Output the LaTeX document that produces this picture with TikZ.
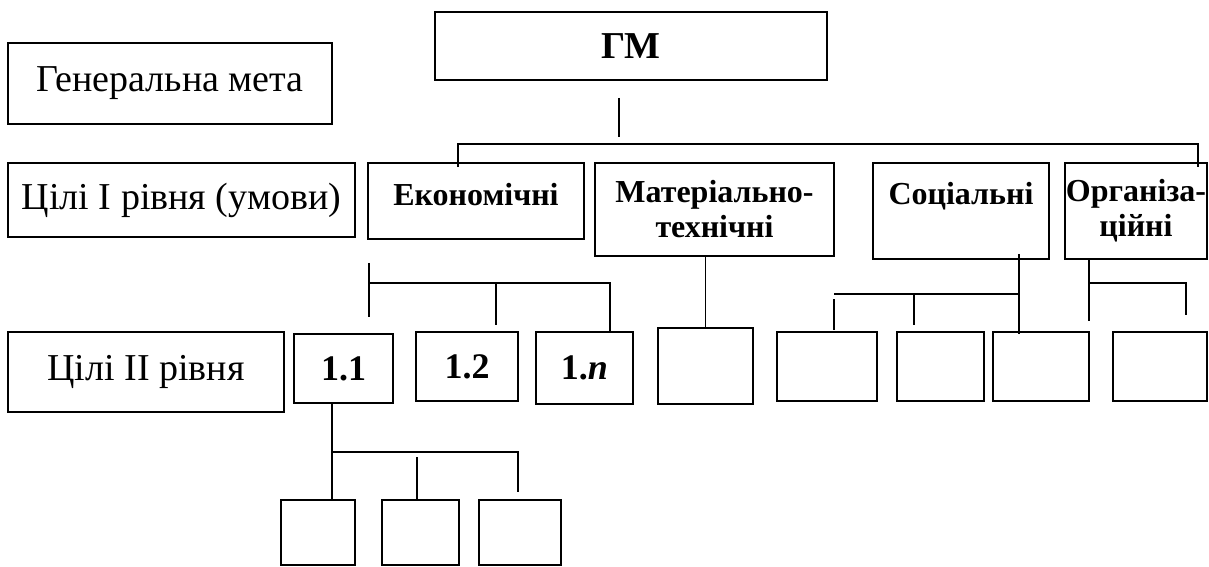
\documentclass[tikz,border=0pt]{standalone}
\usepackage{fontspec}
\setmainfont{Liberation Serif}
\tikzset{
  goal/.style={draw, line width=1.6pt, inner sep=0pt, align=center},
  wh/.style 2 args={minimum width=#1pt, minimum height=#2pt},
  plain/.style={goal, font=\fontsize{38}{42}\selectfont},
  head/.style={goal, font=\bfseries\fontsize{32}{35}\selectfont},
  num/.style={goal, font=\bfseries\fontsize{36}{40}\selectfont},
  link/.style={line width=1.4pt},
}

\begin{document}
\begin{tikzpicture}[x=1pt, y=-1pt]
  \useasboundingbox (0,0) rectangle (1209,567);
  % row captions
  \node[plain, wh={324}{81}] (gen) at (170,83.5) {Генеральна мета};
  \node[plain, wh={347}{74}] (lvl1) at (181.5,200) {Цілі І рівня (умови)};
  \node[plain, wh={276}{80}] (lvl2) at (146,372) {Цілі ІІ рівня};
  % general goal and first level
  \node[num, wh={392}{68}, font=\bfseries\fontsize{38}{42}\selectfont] (gm) at (631,46) {ГМ};
  \node[head, wh={216}{76}, text depth=14pt] (eco) at (476,201) {Економічні};
  \node[head, wh={239}{93}] (mat) at (714.5,209.5) {Матеріально-\\технічні};
  \node[head, wh={176}{96}] (soc) at (961,211) {Соціальні\\\mbox{}};
  \node[head, wh={142}{96}] (org) at (1136,211) {Організа-\\ційні};
  % second level
  \node[num, wh={99}{69}] (b11) at (343.5,368.5) {1.1};
  \node[num, wh={102}{69}] (b12) at (467,366.5) {1.2};
  \node[num, wh={97}{72}] (b1n) at (584.5,368) {1.\textit{n}};
  \node[goal, wh={95}{76}] (bm) at (705.5,366) {};
  \foreach \n/\x/\w in {bs1/827/100, bs2/940.5/87, bs3/1041/96, bo1/1160/94}
    \node[goal, wh={\w}{69}] (\n) at (\x,366.5) {};
  % third level
  \foreach \n/\x/\w in {bb1/318/74, bb2/420.5/77, bb3/520/82}
    \node[goal, wh={\w}{65}] (\n) at (\x,532.5) {};

  % junctions
  \coordinate (gmJ) at (619,144);
  \coordinate (topL) at (458,144);
  \coordinate (topR) at (1198,144);
  \coordinate (ecoL) at (369,283);
  \coordinate (ecoM) at (496,283);
  \coordinate (ecoR) at (610,283);
  \coordinate (socL) at (834,294);
  \coordinate (socM) at (914,294);
  \coordinate (socR) at (1019,294);
  \coordinate (orgL) at (1089,283);
  \coordinate (orgR) at (1186,283);
  \coordinate (subL) at (332,452);
  \coordinate (subM) at (417,452);
  \coordinate (subR) at (518,452);

  % connectors
  \draw[link, shorten <=17pt, shorten >=7pt] (gm.south -| gmJ) -- (gmJ);
  \draw[link, shorten <=-5pt, shorten >=-5pt] (eco.north -| topL) -- (topL) -- (topR) -- (org.north -| topR);

  \draw[link, shorten <=23pt, shorten >=-34pt] (eco.south -| ecoL) -- (ecoL);
  \draw[link] (ecoL) -- (ecoR) -- (b1n.north -| ecoR);
  \draw[link, shorten >=6pt] (ecoM) -- (b12.north -| ecoM);

  \draw[link] (mat.south -| bm.north) -- (bm.north);

  \draw[link, shorten <=-6pt, shorten >=-3pt] (soc.south -| socR) -- (bs3.north -| socR);
  \draw[link] (socL) -- (socR);
  \draw[link, shorten <=5pt, shorten >=1pt] (socL) -- (bs1.north -| socL);
  \draw[link, shorten >=6pt] (socM) -- (bs2.north -| socM);

  \draw[link, shorten >=10pt] (org.south -| orgL) -- (bo1.north -| orgL);
  \draw[link, shorten >=16pt] (orgL) -- (orgR) -- (bo1.north -| orgR);

  \draw[link] (b11.south -| subL) -- (bb1.north -| subL);
  \draw[link, shorten >=7pt] (subL) -- (subR) -- (bb3.north -| subR);
  \draw[link, shorten <=5pt] (subM) -- (bb2.north -| subM);
\end{tikzpicture}
\end{document}
